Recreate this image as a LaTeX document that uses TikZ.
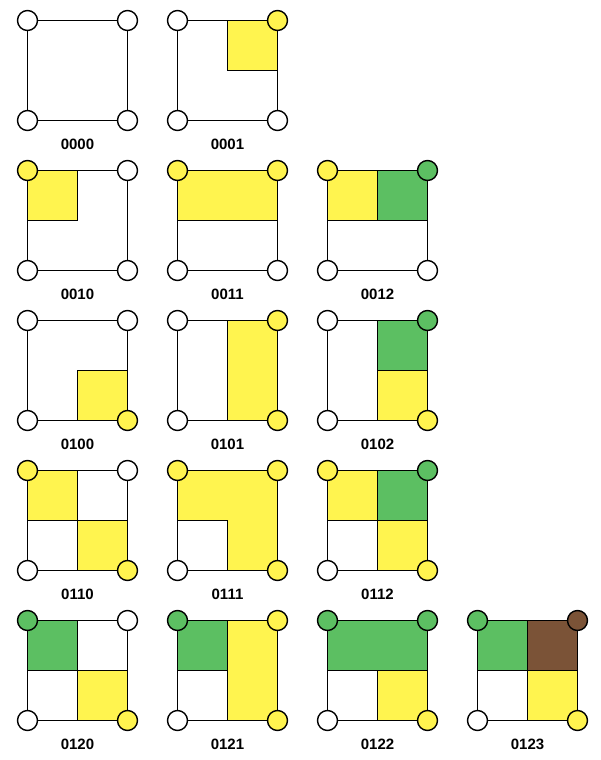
\documentclass[tikz,border=0pt]{standalone}
\usepackage{fontspec}
\setmainfont{Liberation Sans}
\definecolor{ylw}{HTML}{FFF44F}
\definecolor{grn}{HTML}{5CBF62}
\definecolor{brn}{HTML}{7B5337}
\tikzset{
  edge/.style={draw=black, line width=1.8pt},
  qfill/.style={draw=black, line width=1.8pt, fill=#1},
  dot/.style={circle, draw=black, line width=1.4pt, fill=#1, minimum size=20pt, inner sep=0pt},
  lbl/.style={font=\fontsize{15}{17}\selectfont\bfseries, inner sep=0pt}
}
% #1 x, #2 y, #3 name, #4 label, #5 fills, #6-#9 corner colours TL TR BL BR
\newcommand\cellbox[9]{%
  \begin{scope}[shift={(#1,#2)}]
    #5
    \draw[edge] (0,0) rectangle (100,100);
    \node[dot=#6] (#3tl) at (0,0) {};
    \node[dot=#7] (#3tr) at (100,0) {};
    \node[dot=#8] (#3bl) at (0,100) {};
    \node[dot=#9] (#3br) at (100,100) {};
    \node[lbl] (#3l) at (50,123.5) {#4};
  \end{scope}}
\newcommand\TL[1]{\filldraw[qfill=#1] (0,0) rectangle (50,50);}
\newcommand\TR[1]{\filldraw[qfill=#1] (50,0) rectangle (100,50);}
\newcommand\BL[1]{\filldraw[qfill=#1] (0,50) rectangle (50,100);}
\newcommand\BR[1]{\filldraw[qfill=#1] (50,50) rectangle (100,100);}
\begin{document}
\begin{tikzpicture}[x=1pt,y=-1pt]
\useasboundingbox[fill=white] (0,0) rectangle (600,760);
% row 1
\cellbox{27.5}{20.5}{a}{0000}{}{white}{white}{white}{white}
\cellbox{177.5}{20.5}{b}{0001}{\TR{ylw}}{white}{ylw}{white}{white}
% row 2
\cellbox{27.5}{170.5}{c}{0010}{\TL{ylw}}{ylw}{white}{white}{white}
\cellbox{177.5}{170.5}{d}{0011}{\filldraw[qfill=ylw] (0,0) rectangle (100,50);}{ylw}{ylw}{white}{white}
\cellbox{327.5}{170.5}{e}{0012}{\TL{ylw}\TR{grn}}{ylw}{grn}{white}{white}
% row 3
\cellbox{27.5}{320.5}{f}{0100}{\BR{ylw}}{white}{white}{white}{ylw}
\cellbox{177.5}{320.5}{g}{0101}{\filldraw[qfill=ylw] (50,0) rectangle (100,100);}{white}{ylw}{white}{ylw}
\cellbox{327.5}{320.5}{h}{0102}{\TR{grn}\BR{ylw}}{white}{grn}{white}{ylw}
% row 4
\cellbox{27.5}{470.5}{i}{0110}{\TL{ylw}\BR{ylw}}{ylw}{white}{white}{ylw}
\cellbox{177.5}{470.5}{j}{0111}{\filldraw[qfill=ylw] (0,0) -- (100,0) -- (100,100) -- (50,100) -- (50,50) -- (0,50) -- cycle;}{ylw}{ylw}{white}{ylw}
\cellbox{327.5}{470.5}{k}{0112}{\TL{ylw}\TR{grn}\BR{ylw}}{ylw}{grn}{white}{ylw}
% row 5
\cellbox{27.5}{620.5}{m}{0120}{\TL{grn}\BR{ylw}}{grn}{white}{white}{ylw}
\cellbox{177.5}{620.5}{n}{0121}{\TL{grn}\filldraw[qfill=ylw] (50,0) rectangle (100,100);}{grn}{ylw}{white}{ylw}
\cellbox{327.5}{620.5}{o}{0122}{\filldraw[qfill=grn] (0,0) rectangle (100,50);\BR{ylw}}{grn}{grn}{white}{ylw}
\cellbox{477.5}{620.5}{p}{0123}{\TL{grn}\TR{brn}\BR{ylw}}{grn}{brn}{white}{ylw}
\end{tikzpicture}
\end{document}
